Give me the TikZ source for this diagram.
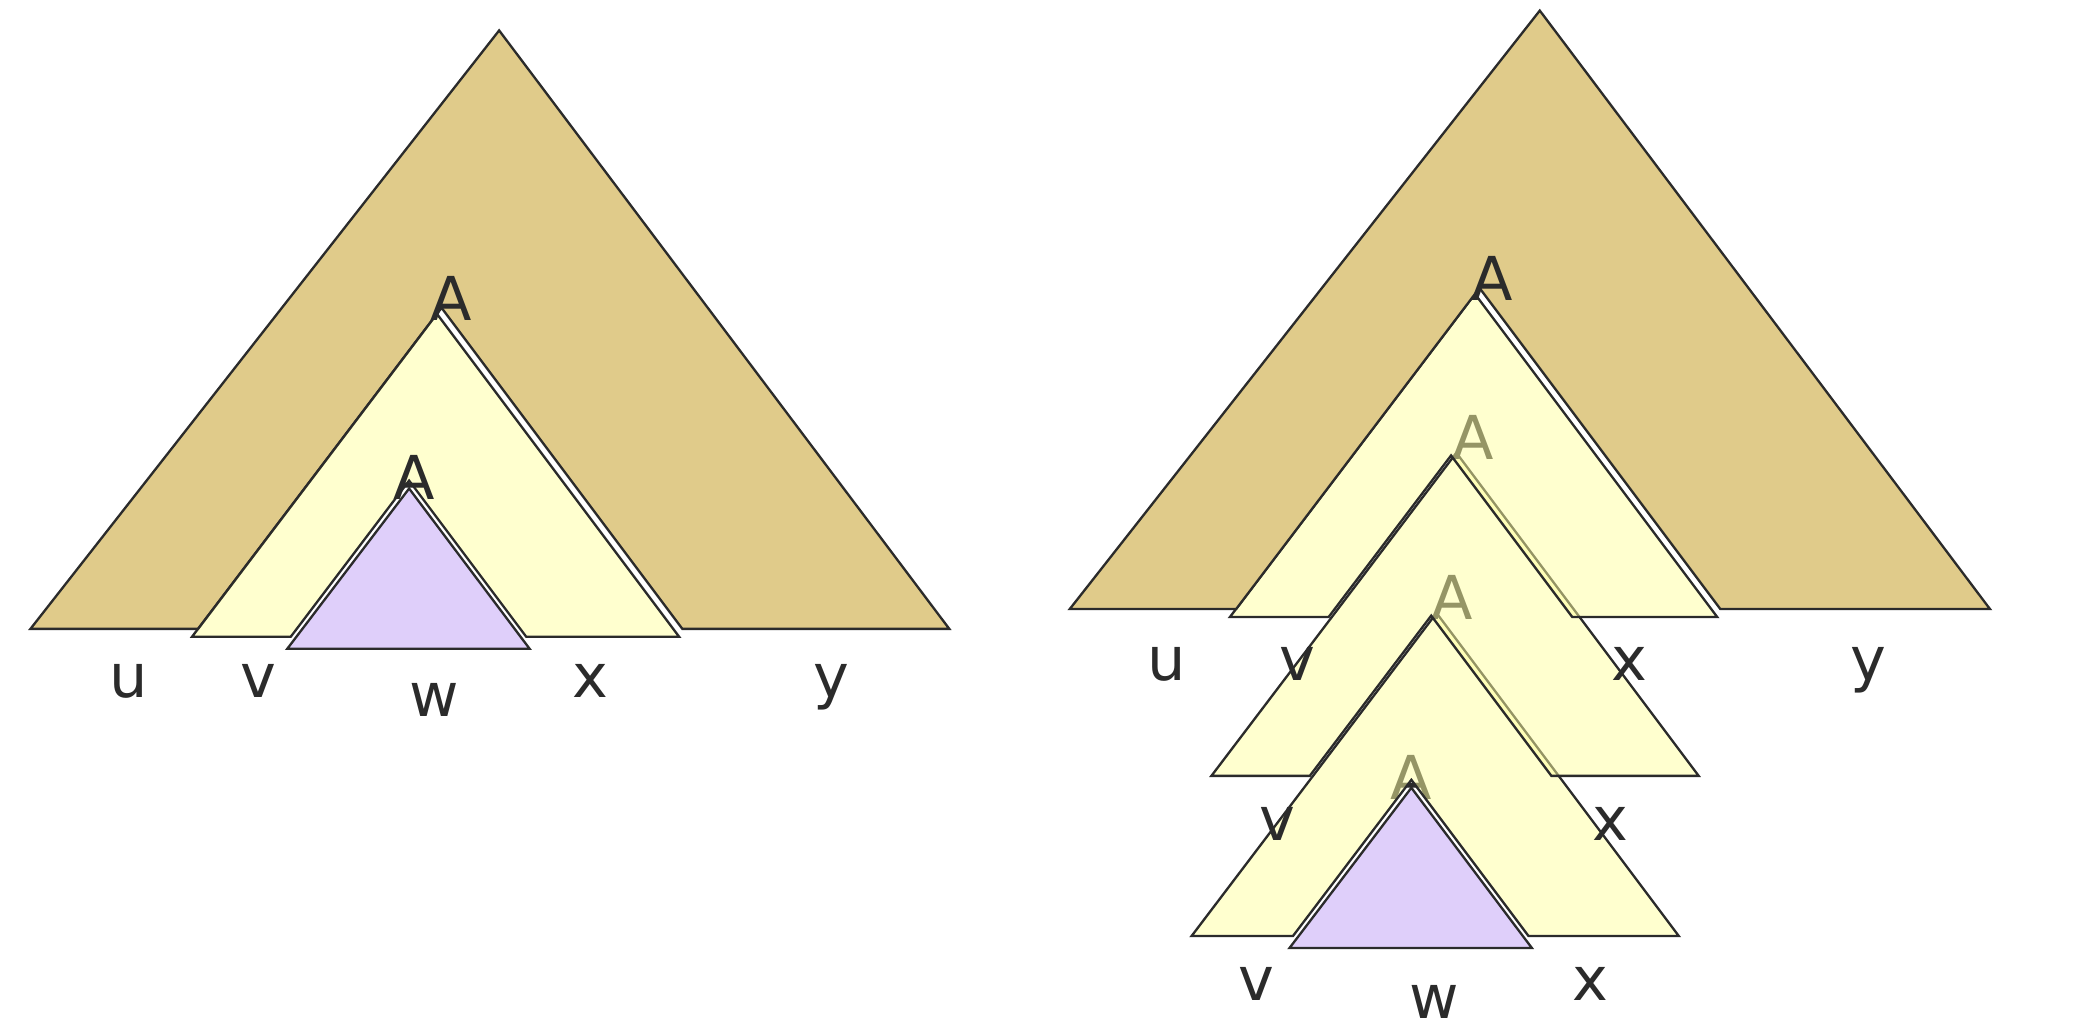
\documentclass[tikz,border=0pt]{standalone}
\usepackage{fontspec}
\setmainfont{DejaVu Sans}
\usetikzlibrary{positioning}
\definecolor{tbeige}{RGB}{224,203,138}
\definecolor{tyellow}{RGB}{255,255,160}
\definecolor{tlilac}{RGB}{223,207,250}
\definecolor{tink}{RGB}{43,43,43}
\newcommand{\holetri}[8]{%
  \pgfmathsetmacro\holeL{#7-(#6-#8)*0.758}%
  \pgfmathsetmacro\holeR{#7+(#6-#8)*0.75}%
  \filldraw[#1] (#4,#6) -- (\holeL,#6) -- (#7,#8) -- (\holeR,#6) -- (#5,#6) -- (#2,#3) -- cycle;}
\newcommand{\solidtri}[6]{\filldraw[#1] (#4,#6) -- (#2,#3) -- (#5,#6) -- cycle;}

\begin{document}
\begin{tikzpicture}[x=0.01cm,y=-0.01cm,
  outer/.style={fill=tbeige,draw=tink,line width=0.5pt},
  inner/.style={fill=tyellow,fill opacity=0.5,draw=tink,line width=0.5pt},
  core/.style={fill=tlilac,draw=tink,line width=0.5pt},
  lbl/.style={text=tink,font=\fontsize{13}{15}\selectfont,anchor=base,inner sep=0pt}]
\useasboundingbox (0,0) rectangle (1568,782);
\holetri{outer}{377}{23}{23}{717}{475}{333.5}{232.5}
\holetri{inner}{330}{237}{145}{513}{481}{309}{363}
\solidtri{core}{309}{369}{217}{400}{490}
\node[lbl] (aL1) at (340.5,242) {A};
\node[lbl] (aL2) at (312.5,377.5) {A};
\node[lbl] (uL) at (97,527) {u};
\node[lbl] (vL) at (195,527) {v};
\node[lbl] (wL) at (328,541) {w};
\node[lbl] (xL) at (446,527) {x};
\node[lbl] (yL) at (628,527) {y};
% pumped tree, inner layers first
\solidtri{core}{1066}{595}{974}{1157}{716}
\node[lbl] (aR4) at (1066,604) {A};
\holetri{inner}{1085}{463}{900}{1268}{707}{1066}{589}
\node[lbl] (aR3) at (1096.6,468) {A};
\holetri{inner}{1100}{342}{915}{1283}{586}{1081}{465}
\node[lbl] (aR2) at (1112.7,347) {A};
\holetri{inner}{1114}{222}{929}{1297}{466}{1096}{344}
\holetri{outer}{1163}{8}{808}{1503}{460}{1117.5}{217.5}
\node[lbl] (aR1) at (1127,227) {A};
\node[lbl] (uR) at (881,514) {u};
\node[lbl] (vR1) at (980,514) {v};
\node[lbl] (xR1) at (1231,514) {x};
\node[lbl] (yR) at (1411,514) {y};
\node[lbl] (vR2) at (965,635) {v};
\node[lbl] (xR2) at (1216,635) {x};
\node[lbl] (vR3) at (949,756) {v};
\node[lbl] (wR) at (1083,769) {w};
\node[lbl] (xR3) at (1201,756) {x};
\end{tikzpicture}
\end{document}
